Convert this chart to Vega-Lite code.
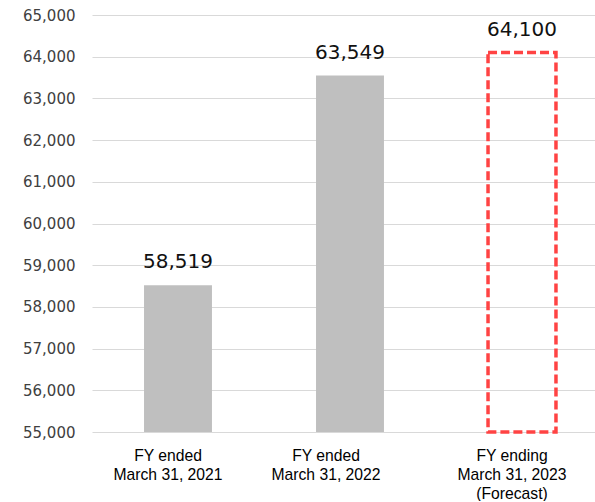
{
  "$schema": "https://vega.github.io/schema/vega-lite/v6.json",
  "width": 516,
  "height": 417,
  "autosize": {"type": "pad"},
  "padding": {"left": 22, "top": 8, "right": 0, "bottom": 0},
  "background": "#ffffff",
  "config": {"view": {"stroke": null}, "font": "DejaVu Sans"},
  "data": {
    "values": [
      {"period": "FY ended|March 31, 2021", "sales": 58519, "forecast": false},
      {"period": "FY ended|March 31, 2022", "sales": 63549, "forecast": false},
      {"period": "FY ending|March 31, 2023|(Forecast)", "sales": 64100, "forecast": true}
    ]
  },
  "encoding": {
    "x": {
      "field": "period",
      "type": "nominal",
      "sort": null,
      "scale": {"paddingInner": 0, "paddingOuter": 0},
      "axis": {
        "title": null,
        "labelAngle": 0,
        "domain": false,
        "ticks": false,
        "labelFont": "Liberation Sans",
        "labelFontSize": 15.7,
        "labelColor": "#000000",
        "labelPadding": 16,
        "labelLineHeight": 19,
        "labelOffset": {"condition": {"test": "indexof(datum.value, '2022') >= 0", "value": -24}, "value": -10},
        "labelExpr": "split(datum.label, '|')"
      }
    },
    "y": {
      "field": "sales",
      "type": "quantitative",
      "scale": {"domain": [55000, 65000], "nice": false, "zero": false},
      "axis": {
        "title": null,
        "values": [55000, 56000, 57000, 58000, 59000, 60000, 61000, 62000, 63000, 64000, 65000],
        "format": ",d",
        "grid": true,
        "gridColor": "#d9d9d9",
        "gridWidth": 1,
        "domain": false,
        "ticks": false,
        "labelFontSize": 15,
        "labelColor": "#404040",
        "labelPadding": 17
      }
    }
  },
  "layer": [
    {
      "transform": [{"filter": "!datum.forecast"}],
      "mark": {"type": "bar", "color": "#bfbfbf", "width": {"band": 0.395}},
      "encoding": {"y2": {"datum": 55000}}
    },
    {
      "transform": [{"filter": "datum.forecast"}],
      "mark": {
        "type": "bar",
        "fill": null,
        "fillOpacity": 0,
        "stroke": "#ff4343",
        "strokeWidth": 3.5,
        "strokeDash": [9, 4],
        "width": {"band": 0.395}
      },
      "encoding": {"y2": {"datum": 55000}}
    },
    {
      "mark": {"type": "text", "fontSize": 20, "dy": -17, "baseline": "alphabetic", "color": "#111111"},
      "encoding": {"text": {"field": "sales", "type": "quantitative", "format": ",d"}}
    }
  ]
}
